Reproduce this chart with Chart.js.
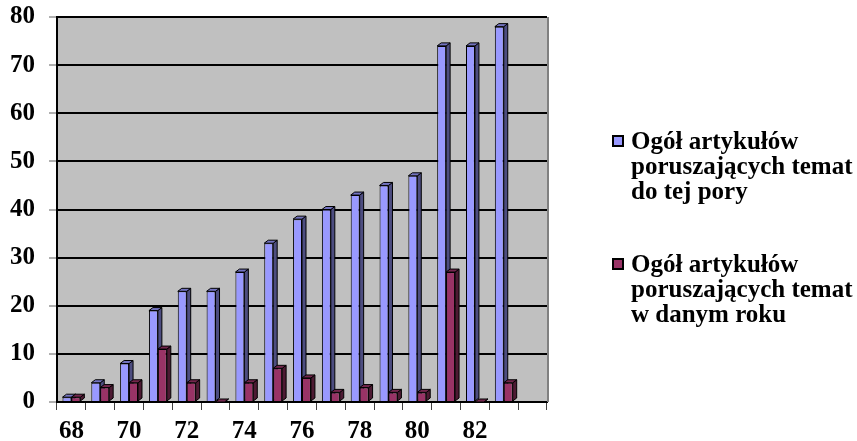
<!DOCTYPE html>
<html>
<head>
<meta charset="utf-8">
<script src="https://cdn.jsdelivr.net/npm/chart.js@4/dist/chart.umd.min.js"></script>
<style>
  html, body { margin: 0; padding: 0; background: #ffffff; }
  #wrap { width: 857px; height: 441px; }
</style>
</head>
<body>
<div id="wrap"><canvas id="c" width="857" height="441"></canvas></div>
<script>
// Years (19xx); the trailing empty slot leaves a free column at the end of the axis
const years = ['68','69','70','71','72','73','74','75','76','77','78','79','80','81','82','83',''];
// Cumulative number of articles on the topic so far
const totalSoFar = [1, 4, 8, 19, 23, 23, 27, 33, 38, 40, 43, 45, 47, 74, 74, 78, null];
// Number of articles on the topic in the given year
const perYear = [1, 3, 4, 11, 4, 0, 4, 7, 5, 2, 3, 2, 2, 27, 0, 4, null];
// Legend captions, one entry per line
const totalLabel = ['Ogół artykułów', 'poruszających temat', 'do tej pory'];
const yearLabel = ['Ogół artykułów', 'poruszających temat', 'w danym roku'];

const FAMILY = '"Liberation Serif", "Times New Roman", serif';
const FONT = 'bold 25px ' + FAMILY;

// colours: front face, side face, top face
const SHADES = [
  { front: '#9999ff', side: '#4d4d80', top: '#7373bf' },
  { front: '#993366', side: '#4d1a33', top: '#73264d' }
];
const DX = 4, DY = 3;

// grey back wall behind the plot
const wallPlugin = {
  id: 'wall',
  beforeDraw(chart) {
    const { ctx, chartArea: a } = chart;
    ctx.save();
    ctx.fillStyle = '#c0c0c0';
    ctx.fillRect(a.left, a.top, a.right - a.left + 2, a.bottom - a.top);
    ctx.restore();
  },
  afterDraw(chart) {
    const { ctx, chartArea: a } = chart;
    ctx.save();
    ctx.strokeStyle = '#808080';
    ctx.lineWidth = 2;
    ctx.beginPath();
    ctx.moveTo(a.right + 1, a.top);
    ctx.lineTo(a.right + 1, a.bottom);
    ctx.stroke();
    ctx.restore();
  }
};

// depth faces (side and top) of each column, drawn before the front faces
const depthPlugin = {
  id: 'depth',
  beforeDatasetsDraw(chart) {
    const ctx = chart.ctx;
    ctx.save();
    ctx.lineWidth = 1;
    ctx.strokeStyle = '#000000';
    chart.data.datasets.forEach((ds, di) => {
      const meta = chart.getDatasetMeta(di);
      const shade = SHADES[di];
      meta.data.forEach((bar, i) => {
        if (ds.data[i] === null || ds.data[i] === undefined) return;
        const p = bar.getProps(['x', 'y', 'base', 'width'], true);
        const l = p.x - p.width / 2, r = p.x + p.width / 2;
        const t = Math.min(p.y, p.base), b = Math.max(p.y, p.base);
        // side
        ctx.beginPath();
        ctx.moveTo(r, t);
        ctx.lineTo(r + DX, t - DY);
        ctx.lineTo(r + DX, b - DY);
        ctx.lineTo(r, b);
        ctx.closePath();
        ctx.fillStyle = shade.side;
        ctx.fill();
        ctx.stroke();
        // top
        ctx.beginPath();
        ctx.moveTo(l, t);
        ctx.lineTo(l + DX, t - DY);
        ctx.lineTo(r + DX, t - DY);
        ctx.lineTo(r, t);
        ctx.closePath();
        ctx.fillStyle = shade.top;
        ctx.fill();
        ctx.stroke();
      });
    });
    ctx.restore();
  }
};

// legend with wrapped captions on the right
const legendPlugin = {
  id: 'sideLegend',
  afterDraw(chart) {
    const ctx = chart.ctx;
    const groups = [
      { lines: totalLabel, color: SHADES[0].front, y: 149 },
      { lines: yearLabel, color: SHADES[1].front, y: 272 }
    ];
    ctx.save();
    ctx.font = FONT;
    ctx.textBaseline = 'alphabetic';
    ctx.textAlign = 'left';
    groups.forEach(g => {
      ctx.fillStyle = g.color;
      ctx.fillRect(613, g.y - 13, 10, 10);
      ctx.lineWidth = 2;
      ctx.strokeStyle = '#000000';
      ctx.strokeRect(613, g.y - 13, 10, 10);
      ctx.fillStyle = '#000000';
      g.lines.forEach((line, k) => ctx.fillText(line, 631, g.y + k * 25));
    });
    ctx.restore();
  }
};

new Chart(document.getElementById('c'), {
  type: 'bar',
  data: {
    labels: years,
    datasets: [
      {
        label: totalLabel.join(' '),
        data: totalSoFar,
        backgroundColor: SHADES[0].front,
        borderColor: '#000000',
        borderWidth: 1,
        borderSkipped: 'bottom',
        categoryPercentage: 0.62,
        barPercentage: 1.0
      },
      {
        label: yearLabel.join(' '),
        data: perYear,
        backgroundColor: SHADES[1].front,
        borderColor: '#000000',
        borderWidth: 1,
        borderSkipped: 'bottom',
        categoryPercentage: 0.62,
        barPercentage: 1.0
      }
    ]
  },
  options: {
    responsive: false,
    animation: false,
    layout: { padding: { left: 0, right: 310, top: 0, bottom: 0 } },
    plugins: {
      legend: { display: false },
      tooltip: { enabled: false }
    },
    scales: {
      x: {
        offset: true,
        grid: {
          offset: true,
          drawOnChartArea: false,
          drawTicks: true,
          tickLength: 8,
          tickColor: '#404040',
          tickWidth: 1
        },
        border: { display: true, color: '#000000', width: 2 },
        ticks: {
          autoSkip: false,
          maxRotation: 0,
          minRotation: 0,
          padding: 7,
          color: '#000000',
          font: { family: FAMILY, size: 25, weight: 'bold' },
          callback: (v, i) => (i % 2 === 0 ? years[i] : '')
        },
        afterFit: s => { s.height = 39; }
      },
      y: {
        min: 0,
        max: 80,
        ticks: {
          stepSize: 10,
          padding: 14,
          color: '#000000',
          font: { family: FAMILY, size: 25, weight: 'bold' }
        },
        grid: {
          color: '#000000',
          lineWidth: 2,
          drawTicks: true,
          tickLength: 8,
          tickColor: '#606060',
          tickWidth: 1
        },
        border: { display: true, color: '#000000', width: 2 },
        afterFit: s => {
          s.width = 57;
          s.paddingTop = 17;
          s.paddingBottom = 0;
        }
      }
    }
  },
  plugins: [wallPlugin, depthPlugin, legendPlugin]
});
</script>
</body>
</html>
